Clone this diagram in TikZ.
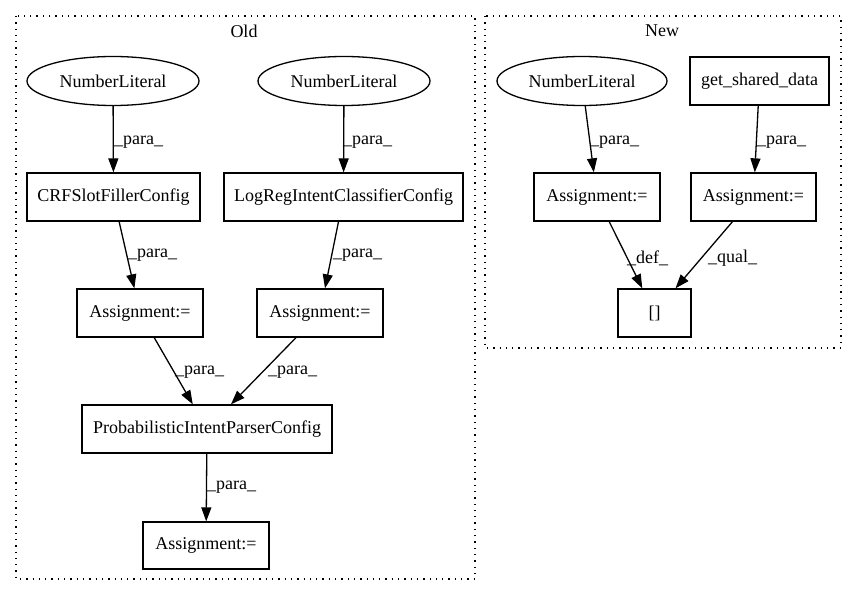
\documentclass[tikz,border=0pt]{standalone}
\usepackage{fontspec}
\setmainfont{Liberation Serif}
\usetikzlibrary{arrows.meta,shapes.geometric}
\tikzset{
  base/.style={draw, line width=1.3pt, inner sep=0pt, font=\fontsize{18}{22}\selectfont},
  box/.style={base, rectangle, minimum height=48pt},
  oval/.style={base, ellipse, minimum width=172pt, minimum height=49pt},
  edge/.style={line width=1.3pt, -{Triangle[length=14pt,width=10pt]}},
  elabel/.style={anchor=west, inner sep=0pt, font=\fontsize{18}{22}\selectfont},
  cluster/.style={line width=1.3pt, dash pattern=on 1.3pt off 5pt},
  ctitle/.style={inner sep=0pt, font=\fontsize{18}{22}\selectfont}
}
\begin{document}
\begin{tikzpicture}[x=1pt,y=-1pt]
\useasboundingbox (0,0) rectangle (856,596);
% clusters
\draw[cluster] (16,16) rectangle (475,579);
\node[ctitle] (oldt) at (244,31) {Old};
\draw[cluster] (485,16) rectangle (841,348);
\node[ctitle] (newt) at (662,31) {New};
% Old nodes
\node[oval] (nl1) at (113,81) {NumberLiteral};
\node[oval] (nl2) at (344,81) {NumberLiteral};
\node[box, minimum width=173pt] (crf) at (113.5,197) {CRFSlotFillerConfig};
\node[box, minimum width=239pt] (logreg) at (343.5,197) {LogRegIntentClassifierConfig};
\node[box, minimum width=126pt] (asL) at (140,313) {Assignment:=};
\node[box, minimum width=126pt] (asR) at (320,313) {Assignment:=};
\node[box, minimum width=250pt] (pipc) at (207,429) {ProbabilisticIntentParserConfig};
\node[box, minimum width=126pt, minimum height=47pt] (asB) at (206,545.5) {Assignment:=};
% New nodes
\node[oval, minimum width=170pt] (nl3) at (582,81) {NumberLiteral};
\node[box, minimum width=139pt] (gsd) at (759.5,81) {get\_shared\_data};
\node[box, minimum width=126pt] (as3) at (597,197) {Assignment:=};
\node[box, minimum width=125pt] (as4) at (753.5,197) {Assignment:=};
\node[box, minimum width=73pt] (br) at (654.5,313) {[]};
% edges
\draw[edge] (nl1) -- (crf);
\draw[edge] (nl2) -- (logreg);
\draw[edge] (crf) -- (asL);
\draw[edge] (logreg) -- (asR);
\draw[edge] (asL) -- (pipc);
\draw[edge] (asR) -- (pipc);
\draw[edge] (pipc) -- (asB);
\draw[edge] (nl3) -- (as3);
\draw[edge] (gsd) -- (as4);
\draw[edge] (as3) -- (br);
\draw[edge] (as4) -- (br);
% edge labels
\node[elabel] (l1) at (114,142) {\_para\_};
\node[elabel] (l2) at (343,142) {\_para\_};
\node[elabel] (l3) at (128,255) {\_para\_};
\node[elabel] (l4) at (333,255) {\_para\_};
\node[elabel] (l5) at (175,372) {\_para\_};
\node[elabel] (l6) at (268,372) {\_para\_};
\node[elabel] (l7) at (207,487) {\_para\_};
\node[elabel] (l8) at (590,142) {\_para\_};
\node[elabel] (l9) at (757,142) {\_para\_};
\node[elabel] (l10) at (627,258) {\_def\_};
\node[elabel] (l11) at (708,258) {\_qual\_};
\end{tikzpicture}
\end{document}
